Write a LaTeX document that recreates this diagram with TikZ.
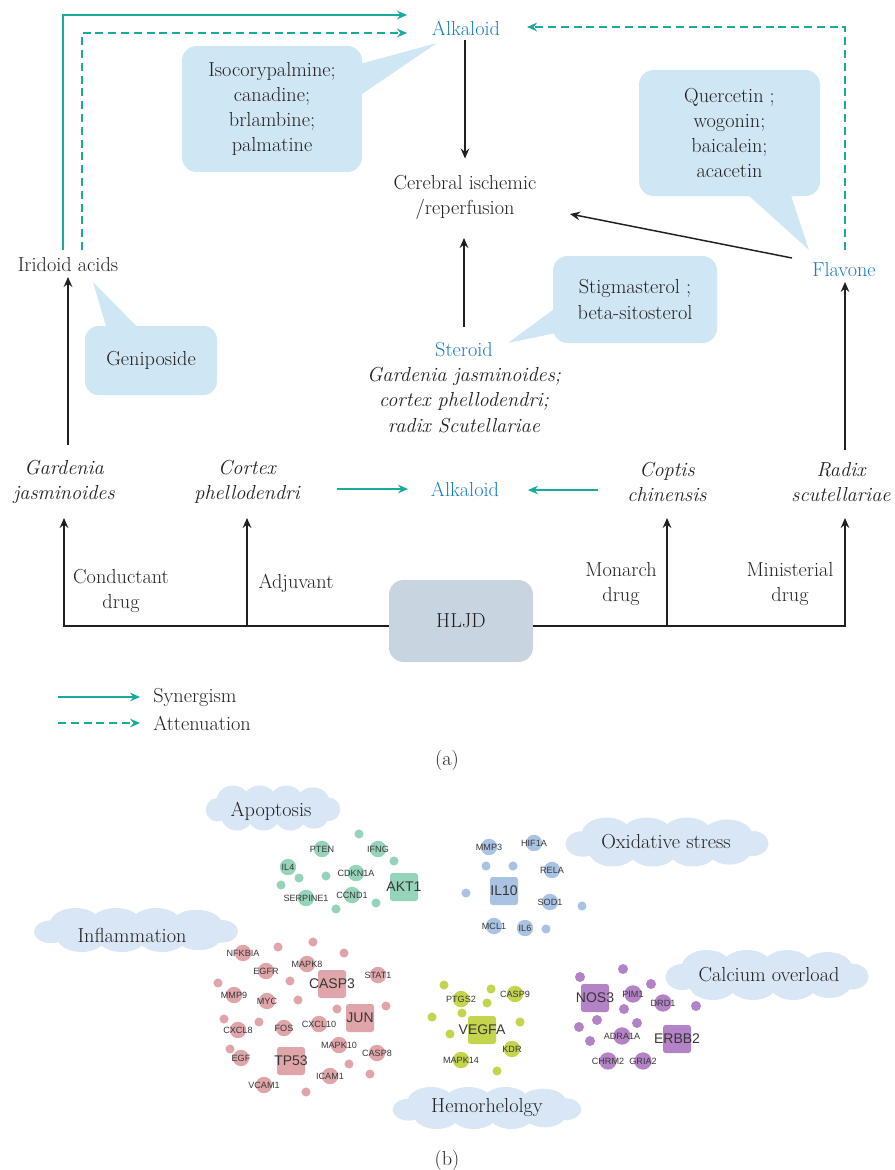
\documentclass[tikz,border=0pt]{standalone}
\usepackage{fontspec}
\newfontfamily\labfont{Liberation Sans}
\usetikzlibrary{arrows.meta,calc}
\newcommand\mainsz{\fontsize{15.2}{18.9}\selectfont}
\definecolor{tblack}{RGB}{35,31,32}
\definecolor{tblue}{RGB}{22,125,195}
\definecolor{teal2}{RGB}{26,170,155}
\definecolor{callc}{RGB}{207,230,244}
\definecolor{hljdc}{RGB}{200,213,224}
\definecolor{cloudc}{RGB}{216,230,246}
\definecolor{mint}{RGB}{150,212,186}
\definecolor{lblue}{RGB}{170,195,228}
\definecolor{pinkc}{RGB}{224,165,168}
\definecolor{ygreen}{RGB}{196,212,76}
\definecolor{purp}{RGB}{180,130,198}
\definecolor{labc}{RGB}{55,55,55}
\newcommand\cloudbg[4]{%
 \begin{scope}[shift={(#1,#2)}]
 \pgfmathsetmacro\cldw{#3}\pgfmathsetmacro\cldh{#4}
 \fill[cloudc] (0,0) ellipse [x radius=0.42*\cldw, y radius=0.32*\cldh]
   (-0.3*\cldw,-0.15*\cldh) ellipse [x radius=0.125*\cldw, y radius=0.35*\cldh]
   (-0.1*\cldw,-0.17*\cldh) ellipse [x radius=0.125*\cldw, y radius=0.33*\cldh]
   (0.1*\cldw,-0.15*\cldh) ellipse [x radius=0.125*\cldw, y radius=0.35*\cldh]
   (0.3*\cldw,-0.13*\cldh) ellipse [x radius=0.125*\cldw, y radius=0.33*\cldh]
   (-0.27*\cldw,0.17*\cldh) ellipse [x radius=0.12*\cldw, y radius=0.33*\cldh]
   (-0.07*\cldw,0.18*\cldh) ellipse [x radius=0.12*\cldw, y radius=0.32*\cldh]
   (0.13*\cldw,0.17*\cldh) ellipse [x radius=0.12*\cldw, y radius=0.33*\cldh]
   (0.31*\cldw,0.16*\cldh) ellipse [x radius=0.11*\cldw, y radius=0.3*\cldh]
   (-0.42*\cldw,0.04*\cldh) ellipse [x radius=0.085*\cldw, y radius=0.26*\cldh]
   (0.42*\cldw,0.03*\cldh) ellipse [x radius=0.085*\cldw, y radius=0.26*\cldh];
 \end{scope}}
\begin{document}
\begin{tikzpicture}[x=0.75pt,y=-0.75pt,
 txtn/.style={font=\mainsz, text=tblack, align=center, inner sep=0pt},
 bluen/.style={txtn, text=tblue},
 italn/.style={txtn, font=\mainsz\itshape},
 myhead/.style={-{Stealth[length=7.5pt,width=6.5pt,inset=2.6pt]}},
 arr/.style={draw=tblack, line width=1.1pt, myhead},
 syn/.style={draw=teal2, line width=1.1pt, myhead},
 att/.style={syn, dash pattern=on 6pt off 3.6pt},
 callb/.style={txtn, fill=callc, rounded corners=11pt},
 lab/.style={font=\labfont\fontsize{6.8}{7}\selectfont, text=labc, inner sep=0pt},
 biglab/.style={font=\labfont\fontsize{10.5}{11}\selectfont, text=labc, inner sep=0pt},
 smc/.style={circle, fill=#1, inner sep=0pt, minimum size=6.8pt},
 mdc/.style={circle, fill=#1, inner sep=0pt, minimum size=12.3pt},
 sqn/.style={rectangle, rounded corners=2pt, fill=#1, inner sep=0pt, minimum size=21pt}
]
\useasboundingbox (0,0) rectangle (894,1170);

% ---------- part (a) ----------
\node[bluen] (alk) at (466,28) {Alkaloid};
\node[txtn] (cer) at (465,197.5) {Cerebral ischemic\\/reperfusion};
\node[txtn] (irid) at (68,265) {Iridoid acids};
\node[bluen] (flav) at (844,270) {Flavone};
\node[bluen] (ster) at (464,350) {Steroid};
\node[italn] (sterd) at (464,400) {Gardenia jasminoides;\\cortex phellodendri;\\radix Scutellariae};

% callouts
\node[callb, minimum width=135pt, minimum height=94.5pt] (c1) at (272,109) {Isocorypalmine;\\canadine;\\brlambine;\\palmatine};
\fill[callc] ($(c1.east)+(-6,-44)$) -- ($(alk)+(-29,15)$) -- ($(c1.east)+(-6,-11)$) -- cycle;

\node[callb, minimum width=135.75pt, minimum height=94.5pt] (c2) at (729.5,133) {Quercetin ;\\wogonin;\\baicalein;\\acacetin};
\fill[callc] ($(c2.south)+(15.5,-4)$) -- ($(flav)+(-35,-20)$) -- ($(c2.south)+(60.5,-4)$) -- cycle;

\node[callb, minimum width=123pt, minimum height=65.25pt] (c3) at (635,299.5) {Stigmasterol ;\\beta-sitosterol};
\fill[callc] ($(c3.west)+(4,7.5)$) -- ($(ster)+(44,-7)$) -- ($(c3.west)+(8,32.5)$) -- cycle;

\node[callb, rounded corners=10pt, minimum width=99pt, minimum height=51.75pt] (c4) at (151,360.5) {Geniposide};
\fill[callc] ($(c4.north)+(-44,4)$) -- ($(irid)+(25,17)$) -- ($(c4.north)+(-11,4)$) -- cycle;

% arrows upper
\draw[arr] ($(alk)+(-1,12)$) -- ($(cer)+(0,-39)$);
\draw[arr] ($(ster)+(0,-23)$) -- ($(cer)+(-1,40.5)$);
\draw[arr] ($(flav)+(-52,-12)$) -- ($(cer)+(105,16.5)$);
\draw[syn] ($(irid)+(-5,-15)$) |- ($(alk)+(-59,-13)$);
\draw[att] ($(irid)+(14,-15)$) |- ($(alk)+(-59,5)$);
\draw[att] ($(flav)+(1,-20)$) |- ($(alk)+(61,-1)$);

% lower
\node[italn] (gar) at (64,482) {Gardenia\\jasminoides};
\node[italn] (cor) at (247,482) {Cortex\\phellodendri};
\node[bluen] (alk2) at (465,489) {Alkaloid};
\node[italn] (cop) at (667,482) {Coptis\\chinensis};
\node[italn] (rad) at (841,482) {Radix\\scutellariae};

\draw[arr] ($(gar)+(4,-37)$) -- ($(irid)+(0,12)$);
\draw[arr] ($(rad)+(4,-32)$) -- ($(flav)+(1,12)$);
\draw[syn] ($(cor)+(90,7)$) -- ($(alk2)+(-57,0)$);
\draw[syn] ($(cop)+(-69,8)$) -- ($(alk2)+(63,1)$);

\node[txtn, fill=hljdc, rounded corners=11pt, minimum width=108pt, minimum height=61.5pt] (hljd) at (461,621) {HLJD};
\draw[arr] ($(hljd.west)+(0,5)$) -| ($(gar)+(0,36)$);
\draw[arr] ($(hljd.west)+(0,5)$) -| ($(cor)+(0,36)$);
\draw[arr] ($(hljd.east)+(0,5)$) -| ($(cop)+(0,36)$);
\draw[arr] ($(hljd.east)+(0,5)$) -| ($(rad)+(4,36)$);

\node[txtn] (l1) at (121,591) {Conductant\\drug};
\node[txtn] (l2) at (296,583) {Adjuvant};
\node[txtn] (l3) at (621,584) {Monarch\\drug};
\node[txtn] (l4) at (790,584) {Ministerial\\drug};

% legend
\coordinate (ls1) at (58,697);
\coordinate (ls2) at (140,697);
\coordinate (la1) at (58,723);
\coordinate (la2) at (140,723);
\draw[syn] (ls1) -- (ls2);
\draw[att] (la1) -- (la2);
\node[txtn, anchor=west] (lsyn) at (153,697) {Synergism};
\node[txtn, anchor=west] (latt) at (153,723) {Attenuation};

\node[txtn] (capa) at (447,760) {(a)};

% ---------- part (b) ----------
\cloudbg{273}{808}{133}{45}
\cloudbg{667}{842}{201}{49}
\cloudbg{136}{930}{202}{44}
\cloudbg{767}{975}{201}{50}
\cloudbg{487}{1108}{187}{42}
\node[txtn] (cl1) at (271,811) {Apoptosis};
\node[txtn] (cl2) at (666,842) {Oxidative stress};
\node[txtn] (cl3) at (132,935) {Inflammation};
\node[txtn] (cl4) at (769,975) {Calcium overload};
\node[txtn] (cl5) at (487,1108) {Hemorhelolgy};

% Apoptosis group
\foreach \p [count=\i] in {(359,834),(394,861),(299,878),(326,876),(281,885),(376,903),(336,909)}
  \node[smc=mint] (aps\i) at \p {};
\foreach \n/\x/\y in {PTEN/322/849,IFNG/378/849,IL4/288/867,CDKN1A/356/873,SERPINE1/306/898,CCND1/352/895}
  \node[mdc=mint, label={[lab]center:\n}] (\n) at (\x,\y) {};
\node[sqn=mint, label={[biglab]center:AKT1}] (AKT1) at (404,887) {};

% Oxidative stress group
\foreach \p [count=\i] in {(486,866),(513,866),(466,893),(582,906),(546,929)}
  \node[smc=lblue] (oxs\i) at \p {};
\foreach \n/\x/\y in {MMP3/489/847,HIF1A/534/843,RELA/552/870,SOD1/550/902,MCL1/494/926,IL6/525/928}
  \node[mdc=lblue, label={[lab]center:\n}] (\n) at (\x,\y) {};
\node[sqn=lblue, label={[biglab]center:IL10}] (IL10) at (504,891) {};

% Inflammation group
\foreach \p [count=\i] in {(278,947),(313,942),(344,953),(290,981),(218,983),(298,1000),(337,1009),(386,1006),(224,1019),(259,1022),(230,1049),(349,1064),(370,1074),(306,1092)}
  \node[smc=pinkc] (ins\i) at \p {};
\foreach \n/\x/\y in {NFKBIA/243/953,EGFR/266/971,MAPK8/307/964,STAT1/378/975,MMP9/234/995,MYC/267/1001,CXCL8/238/1030,FOS/284/1028,CXCL10/319/1024,MAPK10/339/1045,EGF/241/1058,CASP8/377/1053,ICAM1/330/1076,VCAM1/264/1085}
  \node[mdc=pinkc, label={[lab]center:\n}] (\n) at (\x,\y) {};
\node[sqn=pinkc, label={[biglab]center:CASP3}] (CASP3) at (332,984) {};
\node[sqn=pinkc, label={[biglab]center:JUN}] (JUN) at (360,1018) {};
\node[sqn=pinkc, label={[biglab]center:TP53}] (TP53) at (291,1061) {};

% Hemorheology group
\foreach \p [count=\i] in {(444,985),(491,989),(487,1003),(462,1013),(432,1017),(520,1022),(450,1034),(497,1071)}
  \node[smc=ygreen] (hes\i) at \p {};
\foreach \n/\x/\y in {PTGS2/461/999,CASP9/515/994,KDR/512/1049,MAPK14/461/1060}
  \node[mdc=ygreen, label={[lab]center:\n}] (\n) at (\x,\y) {};
\node[sqn=ygreen, label={[biglab]center:VEGFA}] (VEGFA) at (482,1030) {};

% Calcium overload group
\foreach \p [count=\i] in {(580,977),(623,969),(651,984),(696,1006),(624,1009),(597,1020),(637,1023),(579,1027),(590,1041)}
  \node[smc=purp, minimum size=7.5pt] (cas\i) at \p {};
\foreach \n/\x/\y in {PIM1/633/994,DRD1/663/1003,ADRA1A/622/1036,CHRM2/608/1061,GRIA2/643/1061}
  \node[mdc=purp, minimum size=13pt, label={[lab]center:\n}] (\n) at (\x,\y) {};
\node[sqn=purp, label={[biglab]center:NOS3}] (NOS3) at (595,998) {};
\node[sqn=purp, label={[biglab]center:ERBB2}] (ERBB2) at (677,1039) {};

\node[txtn] (capb) at (447,1160) {(b)};
\end{tikzpicture}
\end{document}
